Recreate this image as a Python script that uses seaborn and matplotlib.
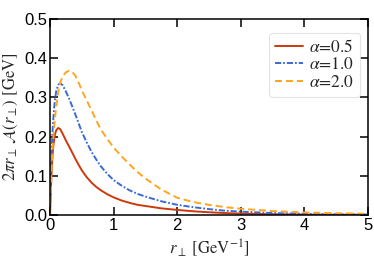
import numpy as np
import pandas as pd
import matplotlib
matplotlib.use("Agg")
import matplotlib.pyplot as plt
import seaborn as sns

r_perp = [0.0, 0.01, 0.02, 0.035, 0.05, 0.065, 0.08, 0.1, 0.13, 0.16, 0.2, 0.25,
          0.3, 0.35, 0.4, 0.45, 0.5, 0.575, 0.65, 0.725, 0.8, 0.9, 1.0, 1.125,
          1.25, 1.375, 1.5, 1.75, 2.0, 2.25, 2.5, 2.75, 3.0, 3.5, 4.0, 4.5, 5.0]
alpha_05 = [0.0, 0.05, 0.09, 0.14, 0.172, 0.193, 0.207, 0.217, 0.222, 0.219, 0.207, 0.190,
            0.175, 0.159, 0.143, 0.128, 0.114, 0.097, 0.083, 0.072, 0.063, 0.053, 0.045, 0.037,
            0.031, 0.026, 0.023, 0.017, 0.013, 0.0095, 0.007, 0.005, 0.0035, 0.002, 0.001,
            0.0006, 0.0003]
alpha_10 = [0.0, 0.08, 0.14, 0.20, 0.24, 0.272, 0.297, 0.318, 0.332, 0.336, 0.331, 0.315,
            0.297, 0.277, 0.256, 0.234, 0.212, 0.186, 0.162, 0.142, 0.124, 0.105, 0.089, 0.075,
            0.063, 0.054, 0.047, 0.035, 0.026, 0.020, 0.015, 0.011, 0.0085, 0.005, 0.003,
            0.002, 0.001]
alpha_20 = [0.0, 0.055, 0.10, 0.15, 0.19, 0.222, 0.25, 0.28, 0.315, 0.337, 0.354, 0.364,
            0.368, 0.365, 0.355, 0.338, 0.318, 0.293, 0.268, 0.242, 0.218, 0.194, 0.172, 0.150,
            0.129, 0.110, 0.093, 0.065, 0.044, 0.033, 0.026, 0.020, 0.016, 0.010, 0.0065,
            0.0045, 0.003]
labels = [r"$\alpha$=0.5", r"$\alpha$=1.0", r"$\alpha$=2.0"]

n = len(r_perp)
df = pd.DataFrame({
    "r": r_perp * 3,
    "val": alpha_05 + alpha_10 + alpha_20,
    "series": [labels[0]] * n + [labels[1]] * n + [labels[2]] * n,
})

sns.set_style("ticks")
plt.rcParams["mathtext.fontset"] = "stix"
plt.rcParams["font.family"] = ["Liberation Sans", "DejaVu Sans"]

colors = {labels[0]: "#cc3a0c", labels[1]: "#3a6ad9", labels[2]: "#ffa51f"}
dashes = {labels[0]: "", labels[1]: (3.2, 1.0, 0.9, 1.0), labels[2]: (3.6, 2.0)}

fig = plt.figure(figsize=(3.74, 2.6), dpi=100)
ax = fig.add_axes([50 / 374, 45 / 260, 318 / 374, 196 / 260])

sns.lineplot(data=df, x="r", y="val", hue="series", style="series",
             palette=colors, dashes=dashes, linewidth=1.4, ax=ax, legend=True)

ax.set_xlim(0, 5)
ax.set_ylim(0, 0.5)
ax.set_xticks([0, 1, 2, 3, 4, 5])
ax.set_yticks([0.0, 0.1, 0.2, 0.3, 0.4, 0.5])
ax.set_yticklabels(["0.0", "0.1", "0.2", "0.3", "0.4", "0.5"])
ax.tick_params(direction="in", length=6, width=1.1, top=True, right=True,
               labelsize=12, pad=2, colors="black")
for s in ax.spines.values():
    s.set_visible(True)
    s.set_linewidth(1.1)
    s.set_color("black")

ax.set_xlabel(r"$r_\perp$ [GeV$^{-1}$]", fontsize=12, family="STIXGeneral", labelpad=3)
ax.set_ylabel(r"$2\pi r_\perp\,\mathcal{A}(r_\perp)$ [GeV]", fontsize=12,
              family="STIXGeneral", labelpad=3)

leg = ax.legend(loc="upper right", bbox_to_anchor=(0.975, 0.93), frameon=True,
                fancybox=True, prop={"family": "STIXGeneral", "size": 12.5},
                handlelength=1.6, handletextpad=0.35, labelspacing=0.08,
                borderpad=0.35, borderaxespad=0.0)
leg.get_frame().set_edgecolor("#dddddd")
leg.get_frame().set_linewidth(0.8)
leg.set_title(None)

fig.savefig("out.png", dpi=100)
